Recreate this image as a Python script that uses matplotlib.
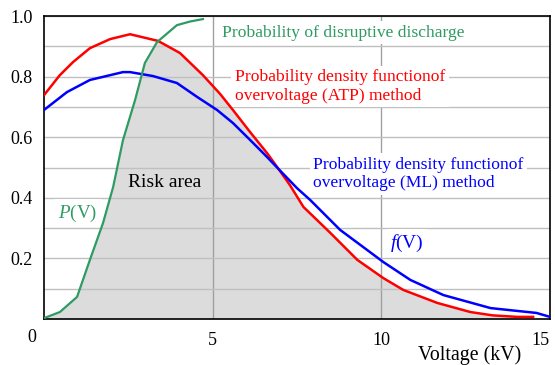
import numpy as np
import matplotlib.pyplot as plt

plt.rcParams['font.family'] = ['Liberation Serif', 'DejaVu Serif']
plt.rcParams['mathtext.fontset'] = 'custom'
plt.rcParams['mathtext.it'] = 'Liberation Serif:italic'
plt.rcParams['mathtext.rm'] = 'Liberation Serif'

# ATP method density (red)
v_atp = [0, 0.47, 0.86, 1.36, 1.96, 2.55, 3.38, 4.03, 4.71, 5.22, 5.60, 6.11, 6.61, 6.91,
         7.29, 7.69, 8.49, 9.29, 10.06, 10.65, 11.66, 12.64, 13.3, 14.03, 14.5]
f_atp = [0.739, 0.805, 0.848, 0.894, 0.924, 0.94, 0.918, 0.878, 0.805, 0.743, 0.69, 0.617,
         0.548, 0.502, 0.442, 0.37, 0.284, 0.195, 0.135, 0.096, 0.053, 0.023, 0.012, 0.007, 0.007]

# ML method density (blue)
v_ml = [0, 0.68, 1.36, 2.34, 2.55, 3.23, 3.94, 4.54, 5.13, 5.60, 6.11, 6.61, 6.91, 7.5,
        7.89, 8.78, 10.06, 10.86, 11.84, 13.24, 14.6, 15.0]
f_ml = [0.69, 0.749, 0.789, 0.815, 0.815, 0.802, 0.779, 0.733, 0.69, 0.647, 0.591, 0.535,
        0.50, 0.432, 0.393, 0.294, 0.188, 0.129, 0.079, 0.036, 0.02, 0.007]

# probability of disruptive discharge (green)
v_p = [0, 0.47, 0.98, 1.36, 1.75, 2.05, 2.34, 2.70, 2.99, 3.35, 3.94, 4.33, 4.71]
p_v = [0.003, 0.023, 0.073, 0.195, 0.317, 0.436, 0.59, 0.723, 0.845, 0.914, 0.97, 0.982, 0.99]

red = '#ff0000'
blue = '#0000ff'
green = '#2e9b62'

fig = plt.figure(figsize=(5.55, 3.65), dpi=100)
ax = fig.add_axes([0.0793, 0.126, 0.9117, 0.830])

# risk area = under both curves
xx = np.linspace(0, 14.5, 800)
p_interp = np.interp(xx, v_p, p_v, right=1.0)
f_interp = np.interp(xx, v_atp, f_atp)
ax.fill_between(xx, 0, np.minimum(p_interp, f_interp), color='#dcdcdc', lw=0, zorder=1)

ax.plot(v_atp, f_atp, color=red, lw=1.8, zorder=3)
ax.plot(v_ml, f_ml, color=blue, lw=1.8, zorder=3)
ax.plot(v_p, p_v, color=green, lw=1.6, zorder=3)

ax.set_xlim(0, 15)
ax.set_ylim(0, 1.0)
ax.set_xticks([5, 10, 15])
ax.set_yticks([0.2, 0.4, 0.6, 0.8, 1.0])
ax.set_yticks(np.arange(0.1, 1.0, 0.2), minor=True)
ax.set_yticklabels(['0.2', '0.4', '0.6', '0.8', '1.0'])
ax.tick_params(length=0, labelsize=13, pad=8)
ax.tick_params(axis='x', pad=9)
ax.tick_params(which='minor', length=0)
ax.get_xticklabels()[-1].set_horizontalalignment('right')
ax.grid(axis='y', which='both', color='#c0c0c0', lw=1.0, zorder=1.5)
ax.grid(axis='x', color='#a0a0a0', lw=1.0, zorder=1.5)
for s in ax.spines.values():
    s.set_linewidth(1.2)

ax.text(-0.36, -0.06, '0', fontsize=13, ha='center', va='center', transform=ax.transData,
        clip_on=False)
fig.text(0.847, 0.027, 'Voltage (kV)', fontsize=14.3, ha='center', va='center')

box = dict(facecolor='white', edgecolor='none', pad=2.5)
ax.text(5.28, 0.945, 'Probability of disruptive discharge', color=green, fontsize=12.6,
        ha='left', va='center', bbox=box, zorder=2)
ax.text(5.66, 0.767, 'Probability density functionof\novervoltage (ATP) method', color=red,
        fontsize=12.6, ha='left', va='center', linespacing=1.2, bbox=box, zorder=2)
ax.text(7.98, 0.479, 'Probability density functionof\novervoltage (ML) method', color=blue,
        fontsize=12.6, ha='left', va='center', linespacing=1.2, bbox=box, zorder=2)
ax.text(2.49, 0.449, 'Risk area', color='black', fontsize=14, ha='left', va='center', zorder=2)
ax.text(0.42, 0.35, r'$P$(V)', color=green, fontsize=13.7, ha='left', va='center',
        bbox=box, zorder=2)
ax.text(10.26, 0.251, r'$f$(V)', color=blue, fontsize=14, ha='left', va='center',
        bbox=box, zorder=2)

fig.savefig('out.png', dpi=100)
